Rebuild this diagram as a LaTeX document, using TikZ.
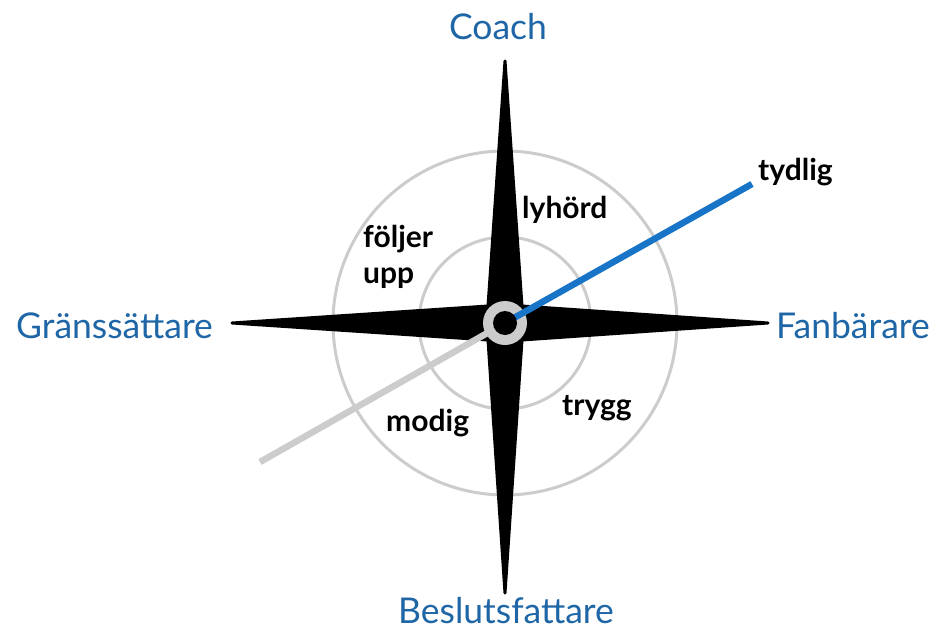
\documentclass[tikz,border=0pt]{standalone}
\usepackage{fontspec}
\setmainfont{Lato}
\definecolor{labelblue}{HTML}{1F66A6}
\definecolor{needleblue}{HTML}{1874C6}
\definecolor{ringgray}{HTML}{CCCCCC}
\begin{document}
\begin{tikzpicture}[x=1pt,y=-1pt,
  dir/.style={text=labelblue,font=\fontsize{35.5}{38}\selectfont,inner sep=0pt},
  trait/.style={text=black,font=\bfseries\fontsize{30}{34}\selectfont,inner sep=0pt},
  circ/.style={draw=ringgray,line width=3pt},
  needle/.style={line width=6.5pt}]
\useasboundingbox (0,0) rectangle (932,632);
\coordinate (c) at (505,323);
\coordinate (bluetip) at (752,184);
\coordinate (graytip) at (260,462);
% circles
\draw[circ] (c) circle (172);
\draw[circ] (c) circle (86);
% star
\filldraw[black,line width=3pt,line join=round] (505,61) -- (522,306) -- (768,323) -- (522,340) -- (505,593) -- (488,340) -- (232,323) -- (488,306) -- cycle;
% needles
\draw[ringgray,needle] (c) -- (graytip);
\fill[ringgray] (c) circle (22);
\draw[needleblue,needle] (c) -- (bluetip);
\fill[black] (c) circle (12);
% labels
\node[dir] (coach) at (498,27) {Coach};
\node[dir,anchor=west] (grans) at (16,326) {Gränssättare};
\node[dir,anchor=east] (fan) at (930,326) {Fanbärare};
\node[dir] (beslut) at (506,611) {Beslutsfattare};
\node[trait,anchor=west] (tydlig) at (758,172) {tydlig};
\node[trait,anchor=west] (lyhord) at (522,210) {lyhörd};
\node[trait,anchor=west,align=left,font=\bfseries\fontsize{30}{36}\selectfont] (foljer) at (363,257) {följer\\upp};
\node[trait,anchor=west] (modig) at (386,423) {modig};
\node[trait,anchor=west] (trygg) at (562,408) {trygg};
\end{tikzpicture}
\end{document}
